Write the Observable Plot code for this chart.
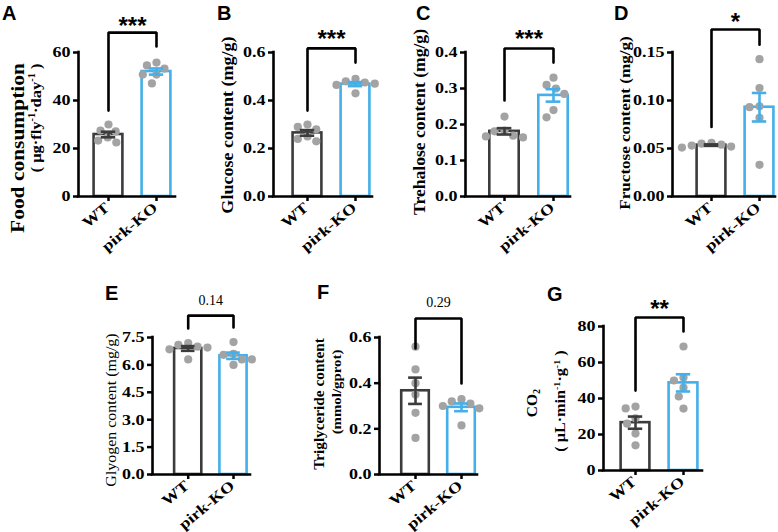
<!DOCTYPE html>
<html>
<head>
<meta charset="utf-8">
<script src="https://cdn.jsdelivr.net/npm/d3@7"></script>
<script src="https://cdn.jsdelivr.net/npm/@observablehq/plot@0.6"></script>
<style>
  body { margin: 0; background: #fff; }
  #fig { position: relative; width: 778px; height: 532px; overflow: hidden; font-family: "Liberation Serif", "Times New Roman", serif; }
  #fig svg { position: absolute; overflow: visible; background: transparent; }
  .letter { position: absolute; font: bold 20px "Liberation Sans", Arial, sans-serif; line-height: 1; }
  .ytitle { position: absolute; white-space: nowrap; line-height: 1; font-weight: bold; }
  .ytitle sup { font-size: 0.62em; vertical-align: 0.55em; }
  .ytitle sub { font-size: 0.65em; vertical-align: -0.25em; }
</style>
</head>
<body>
<div id="fig"></div>
<script>
// Groups shown on every x axis
const groups = ["WT", "pirk-KO"];

// Per-fly measurements, one array per assay and genotype
const foodWT = [30.0, 27.5, 27.1, 24.6, 23.3, 22.5];
const foodKO = [55.8, 54.6, 53.3, 50.8, 50.8, 47.1];
const glucoseWT = [0.30, 0.29, 0.28, 0.25, 0.24, 0.23];
const glucoseKO = [0.49, 0.48, 0.475, 0.47, 0.465, 0.43];
const trehaloseWT = [0.222, 0.183, 0.181, 0.169, 0.167, 0.164];
const trehaloseKO = [0.33, 0.31, 0.30, 0.285, 0.24, 0.22];
const fructoseWT = [0.056, 0.055, 0.054, 0.053, 0.052, 0.051];
const fructoseKO = [0.143, 0.113, 0.094, 0.093, 0.082, 0.033];
const glycogenWT = [7.2, 7.1, 7.0, 6.95, 6.85, 6.3];
const glycogenKO = [7.25, 6.6, 6.55, 6.3, 6.3, 6.0];
const triglycerideWT = [0.56, 0.46, 0.40, 0.35, 0.27, 0.16];
const triglycerideKO = [0.33, 0.32, 0.31, 0.30, 0.29, 0.215];
const co2WT = [35.5, 34.5, 29.0, 26.0, 20.5, 14.0];
const co2KO = [68.9, 51.7, 50.0, 46.0, 41.1, 34.4];

// Significance annotations (stars or p values)
const significance = ["***", "***", "***", "*", "0.14", "0.29", "**"];

// Y tick values per panel
const ticksA = [0, 20, 40, 60];
const ticksB = [0, 0.2, 0.4, 0.6];
const ticksC = [0, 0.1, 0.2, 0.3, 0.4];
const ticksD = [0, 0.05, 0.10, 0.15];
const ticksE = [0, 1.5, 3.0, 4.5, 6.0, 7.5];
const ticksF = [0, 0.2, 0.4, 0.6];
const ticksG = [0, 20, 40, 60, 80];

const colors = ["#3c3c3c", "#44afe8"];
const dotColor = "#a3a3a3";
const wide = 1.2;      // horizontal stretch of tick lettering
const titleWide = 1.1; // stretch of the rotated axis titles

// Panel layout: svg box, margins, x extent (in group units), bracket geometry in data units
const panels = [
  {letter: "A", lx: 3, ly: 5, wt: foodWT, ko: foodKO, ticks: ticksA, fmt: d3.format("d"), sig: 0,
   L: 0, T: 0, W: 185, H: 260, mt: 52, mb: 64, ml: 78, mr: 10, xd: [-0.625, 1.396], bracket: [68.3, 35.8, 62.5], sigY: 70.8},
  {letter: "B", lx: 218, ly: 5, wt: glucoseWT, ko: glucoseKO, ticks: ticksB, fmt: d3.format(".1f"), sig: 1,
   L: 235, T: 0, W: 145, H: 260, mt: 52, mb: 64, ml: 38, mr: 8, xd: [-0.708, 1.354], bracket: [0.617, 0.358, 0.558], sigY: 0.655},
  {letter: "C", lx: 417, ly: 5, wt: trehaloseWT, ko: trehaloseKO, ticks: ticksC, fmt: d3.format(".1f"), sig: 2,
   L: 425, T: 0, W: 155, H: 260, mt: 52, mb: 64, ml: 40, mr: 10, xd: [-0.796, 1.347], bracket: [0.411, 0.267, 0.372], sigY: 0.437},
  {letter: "D", lx: 615, ly: 5, wt: fructoseWT, ko: fructoseKO, ticks: ticksD, fmt: d3.format(".2f"), sig: 3,
   L: 630, T: 0, W: 148, H: 260, mt: 52, mb: 64, ml: 42, mr: 3, xd: [-0.8125, 1.333], bracket: [0.174, 0.0725, 0.158], sigY: 0.1815},
  {letter: "E", lx: 106, ly: 285, wt: glycogenWT, ko: glycogenKO, ticks: ticksE, fmt: d3.format(".1f"), sig: 4,
   L: 120, T: 280, W: 140, H: 252, mt: 57, mb: 58, ml: 32, mr: 10, xd: [-0.788, 1.375], bracket: [8.70, 7.99, 8.05], sigY: 9.55},
  {letter: "F", lx: 318, ly: 284, wt: triglycerideWT, ko: triglycerideKO, ticks: ticksF, fmt: d3.format(".1f"), sig: 5,
   L: 345, T: 280, W: 145, H: 252, mt: 57, mb: 58, ml: 34, mr: 13, xd: [-0.783, 1.348], bracket: [0.683, 0.552, 0.399], sigY: 0.755},
  {letter: "G", lx: 548, ly: 286, wt: co2WT, ko: co2KO, ticks: ticksG, fmt: d3.format("d"), sig: 6,
   L: 570, T: 280, W: 145, H: 252, mt: 46, mb: 62, ml: 33, mr: 13, xd: [-0.667, 1.396], bracket: [85, 44.4, 77.2], sigY: 89.6}
];

// Rotated y-axis titles (centre position, font size, stretch along the text)
const titles = [
  {html: "Food consumption", x: 18, y: 148, size: 19.5, s: titleWide},
  {html: "( μg·fly<sup>-1</sup>·day<sup>-1</sup> )", x: 36, y: 118, size: 15, s: titleWide},
  {html: "Glucose content (mg/g)", x: 228, y: 125, size: 16.4, s: titleWide},
  {html: "Trehalose content (mg/g)", x: 420, y: 122, size: 16, s: titleWide},
  {html: "Fructose content (mg/g)", x: 625, y: 123, size: 15.5, s: titleWide},
  {html: "Glyogen content (mg/g)", x: 111, y: 410, size: 14.5, s: titleWide, weight: "normal"},
  {html: "Triglyceride content", x: 320, y: 404, size: 13.9, s: titleWide},
  {html: "(mmol/gprot)", x: 337, y: 392, size: 13.5, s: titleWide},
  {html: "CO<sub>2</sub>", x: 533, y: 403, size: 15.5, s: 1},
  {html: "( μL·min<sup>-1</sup>·g<sup>-1</sup> )", x: 560, y: 401, size: 14.7, s: titleWide}
];

// Horizontal offsets (px) so that dots of similar value do not overlap
function swarm(values, ky, d) {
  const order = d3.range(values.length).sort((a, b) => values[b] - values[a]);
  const placed = [];
  const out = new Array(values.length);
  for (const k of order) {
    const y = values[k] * ky;
    const blocks = placed
      .filter(p => Math.abs(p.y - y) < d)
      .map(p => { const w = Math.sqrt(d * d - (p.y - y) ** 2); return [p.x - w, p.x + w]; });
    const candidates = [0, ...blocks.flat()].sort((a, b) => Math.abs(a) - Math.abs(b) || a - b);
    const x = candidates.find(c => blocks.every(([lo, hi]) => c <= lo + 1e-6 || c >= hi - 1e-6));
    placed.push({x, y});
    out[k] = x;
  }
  return out;
}

// Widen tick labels along their own baseline, keeping the anchored end in place
function widen(svg, selector, s, angle) {
  svg.querySelectorAll(selector).forEach(el => {
    const g = document.createElementNS("http://www.w3.org/2000/svg", "g");
    el.parentNode.insertBefore(g, el);
    g.appendChild(el);
    const b = g.getBBox();
    const ax = b.x + b.width;
    const ay = angle ? b.y : b.y + b.height / 2;
    g.setAttribute("transform",
      `translate(${ax},${ay}) rotate(${angle}) scale(${s},1) rotate(${-angle}) translate(${-ax},${-ay})`);
  });
}

const fig = document.getElementById("fig");

for (const p of panels) {
  const yd = [0, p.ticks[p.ticks.length - 1]];
  const pw = p.W - p.ml - p.mr;
  const ph = p.H - p.mt - p.mb;
  const kx = pw / (p.xd[1] - p.xd[0]);
  const ky = ph / (yd[1] - yd[0]);

  const series = [p.wt, p.ko];
  const summary = series.map((v, i) => ({
    i, color: colors[i], mean: d3.mean(v), sem: d3.deviation(v) / Math.sqrt(v.length)
  }));
  const dots = series.flatMap((v, i) => swarm(v, ky, 10).map((o, j) => ({x: i + o / kx, y: v[j]})));
  const [top, leftEnd, rightEnd] = p.bracket;
  const bracket = [
    {x: 0, y: leftEnd}, {x: 0, y: top}, {x: 1, y: top}, {x: 1, y: rightEnd}
  ];
  const label = significance[p.sig];
  const isStars = /^\*+$/.test(label);

  const svg = Plot.plot({
    width: p.W, height: p.H,
    marginTop: p.mt, marginBottom: p.mb, marginLeft: p.ml, marginRight: p.mr,
    x: {domain: p.xd},
    y: {domain: yd},
    color: {type: "identity"},
    style: {fontFamily: "'Liberation Serif', 'Times New Roman', serif", fontWeight: "bold", fontSize: "15px", color: "#000", background: "transparent", overflow: "visible"},
    marks: [
      Plot.rectY(summary, {x1: d => d.i - 0.3, x2: d => d.i + 0.3, y1: 0, y2: "mean", fill: "white", stroke: "color", strokeWidth: 2.6}),
      Plot.dot(dots, {x: "x", y: "y", r: 4.1, fill: dotColor}),
      Plot.ruleX(summary, {x: "i", y1: d => d.mean - d.sem, y2: d => d.mean + d.sem, stroke: "color", strokeWidth: 2.6}),
      Plot.ruleY(summary, {y: d => d.mean + d.sem, x1: d => d.i - 0.15, x2: d => d.i + 0.15, stroke: "color", strokeWidth: 2.6}),
      Plot.ruleY(summary, {y: d => d.mean - d.sem, x1: d => d.i - 0.15, x2: d => d.i + 0.15, stroke: "color", strokeWidth: 2.6}),
      Plot.axisY({ticks: p.ticks, tickFormat: p.fmt, tickSize: 5, tickPadding: 3, strokeWidth: 2.5, fontSize: 15, fontWeight: "bold", label: null}),
      Plot.axisX({ticks: [0, 1], tickFormat: i => groups[i], tickSize: 5, tickPadding: 3, tickRotate: -40, strokeWidth: 2.5, fontSize: 15, fontWeight: "bold", label: null}),
      Plot.ruleY([yd[0]], {stroke: "#000", strokeWidth: 2.6, strokeLinecap: "square"}),
      Plot.ruleX([p.xd[0]], {stroke: "#000", strokeWidth: 2.6, strokeLinecap: "square"}),
      Plot.line(bracket, {x: "x", y: "y", stroke: "#000", strokeWidth: 2.6, strokeLinejoin: "miter"}),
      Plot.text([label], {
        x: d3.mean([0, 1]), y: p.sigY, text: d => d,
        fontFamily: isStars ? "'Liberation Sans', Arial, sans-serif" : "'Liberation Serif', serif",
        fontWeight: isStars ? "bold" : "normal",
        fontSize: isStars ? 24 : 14
      })
    ]
  });
  svg.style.left = p.L + "px";
  svg.style.top = p.T + "px";
  fig.appendChild(svg);
  widen(svg, '[aria-label="y-axis tick label"] text', wide, 0);
  widen(svg, '[aria-label="x-axis tick label"] text', wide, -40);

  const letter = document.createElement("div");
  letter.className = "letter";
  letter.textContent = p.letter;
  letter.style.left = (p.lx - 1) + "px";
  letter.style.top = (p.ly - 2) + "px";
  fig.appendChild(letter);
}

for (const t of titles) {
  const div = document.createElement("div");
  div.className = "ytitle";
  div.innerHTML = t.html;
  div.style.left = t.x + "px";
  div.style.top = t.y + "px";
  div.style.fontSize = t.size + "px";
  div.style.transform = `translate(-50%, -50%) rotate(-90deg) scaleX(${t.s})`;
  if (t.weight) div.style.fontWeight = t.weight;
  fig.appendChild(div);
}
</script>
</body>
</html>
